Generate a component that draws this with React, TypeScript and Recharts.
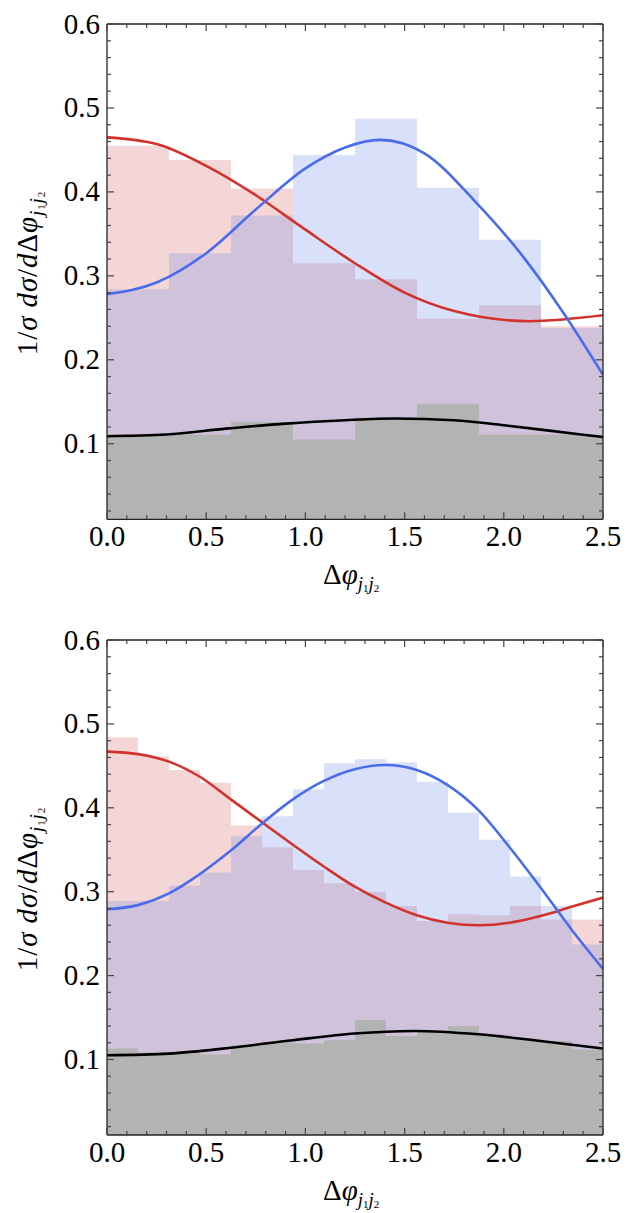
import React from 'react';
import { ComposedChart, Area, Line, XAxis, YAxis } from 'recharts';

const SERIF = "'Liberation Serif', 'DejaVu Serif', serif";

// upper panel: 8 bins of width 0.3125
const topBinWidth = 0.3125;
const topRedHist = [0.455, 0.438, 0.404, 0.315, 0.296, 0.249, 0.265, 0.240];
const topBlueHist = [0.284, 0.327, 0.372, 0.444, 0.487, 0.405, 0.343, 0.238];
const topGrayHist = [0.111, 0.111, 0.126, 0.105, 0.131, 0.147, 0.111, 0.111];

const topRedX = [0, 0.25, 0.5, 0.75, 1.0, 1.25, 1.5, 1.75, 2.13, 2.5];
const topRedCurve = [0.465, 0.457, 0.431, 0.396, 0.355, 0.315, 0.28, 0.258, 0.246, 0.253];
const topBlueX = [0, 0.25, 0.5, 0.75, 1.0, 1.2, 1.375, 1.6, 1.85, 2.1, 2.3, 2.5];
const topBlueCurve = [0.278, 0.292, 0.327, 0.379, 0.428, 0.453, 0.462, 0.446, 0.39, 0.322, 0.256, 0.182];
const topBlackX = [0, 0.3, 0.6, 0.9, 1.2, 1.45, 1.75, 2.0, 2.25, 2.5];
const topBlackCurve = [0.109, 0.111, 0.118, 0.124, 0.128, 0.13, 0.128, 0.122, 0.115, 0.108];

// lower panel: 16 bins of width 0.15625
const botBinWidth = 0.15625;
const botRedHist = [0.484, 0.461, 0.445, 0.43, 0.379, 0.353, 0.326, 0.31, 0.3, 0.283, 0.265, 0.273, 0.272, 0.283, 0.267, 0.267];
const botBlueHist = [0.289, 0.289, 0.307, 0.323, 0.366, 0.39, 0.422, 0.453, 0.458, 0.454, 0.431, 0.394, 0.362, 0.318, 0.283, 0.237];
const botGrayHist = [0.113, 0.108, 0.108, 0.106, 0.117, 0.121, 0.119, 0.123, 0.147, 0.128, 0.133, 0.14, 0.129, 0.125, 0.122, 0.112];

const botCurveX = [0, 0.156, 0.312, 0.468, 0.624, 0.78, 0.937, 1.093, 1.249, 1.405, 1.561, 1.717, 1.873, 2.029, 2.185, 2.341, 2.5];
const botRedCurve = [0.467, 0.464, 0.455, 0.437, 0.41, 0.383, 0.356, 0.33, 0.306, 0.287, 0.272, 0.263, 0.26, 0.263, 0.271, 0.282, 0.293];
const botBlueCurve = [0.279, 0.284, 0.298, 0.321, 0.349, 0.381, 0.41, 0.432, 0.446, 0.451, 0.445, 0.427, 0.397, 0.353, 0.305, 0.255, 0.208];
const botBlackX = [0, 0.312, 0.624, 0.937, 1.249, 1.55, 1.873, 2.185, 2.5];
const botBlackCurve = [0.105, 0.107, 0.114, 0.123, 0.131, 0.134, 0.13, 0.122, 0.113];

// axes
const xDomain: [number, number] = [0, 2.5];
const yDomain: [number, number] = [0.01, 0.6];
const xMajor = [0, 0.5, 1.0, 1.5, 2.0, 2.5];
const yMajor = [0.1, 0.2, 0.3, 0.4, 0.5, 0.6];
const xTicks = Array.from({ length: 26 }, (_, i) => i / 10);
const yTicks = Array.from({ length: 30 }, (_, i) => (i + 1) / 50);

const RED = '#d2322c';
const BLUE = '#4a6cec';

function histSteps(vals: number[], width: number) {
  const pts = vals.map((v, i) => ({ x: i * width, y: v }));
  pts.push({ x: vals.length * width, y: vals[vals.length - 1] });
  return pts;
}

function curve(xs: number[], ys: number[]) {
  return xs.map((x, i) => ({ x, y: ys[i] }));
}

const isMajor = (v: number, majors: number[]) => majors.some((m) => Math.abs(m - v) < 1e-6);

function FrameTick(props: any) {
  const { x, y, payload, side } = props;
  const v = payload.value;
  const horiz = side === 'bottom' || side === 'top';
  const major = isMajor(v, horiz ? xMajor : yMajor);
  const len = major ? 7 : 4;
  let line;
  if (side === 'bottom') line = <line x1={x} y1={y} x2={x} y2={y - len} />;
  else if (side === 'top') line = <line x1={x} y1={y} x2={x} y2={y + len} />;
  else if (side === 'left') line = <line x1={x} y1={y} x2={x + len} y2={y} />;
  else line = <line x1={x} y1={y} x2={x - len} y2={y} />;
  const font = { fontFamily: SERIF, fontSize: 29 };
  return (
    <g>
      <g stroke="#444" strokeWidth={1.2}>{line}</g>
      {major && side === 'bottom' && (
        <text x={x} y={y + 27} textAnchor="middle" style={font} fill="#000">
          {v.toFixed(1)}
        </text>
      )}
      {major && side === 'left' && (
        <text x={x - 7} y={y + 9.5} textAnchor="end" style={font} fill="#000">
          {v.toFixed(1)}
        </text>
      )}
    </g>
  );
}

function Subscript() {
  return (
    <>
      <tspan style={{ fontStyle: 'italic', fontSize: 19 }} dy={6}>j</tspan>
      <tspan style={{ fontSize: 11 }} dy={2}>1</tspan>
      <tspan style={{ fontStyle: 'italic', fontSize: 19 }} dy={-2}>j</tspan>
      <tspan style={{ fontSize: 11 }} dy={2}>2</tspan>
    </>
  );
}

interface PanelProps {
  height: number;
  bottomAxis: number;
  binWidth: number;
  redHist: number[];
  blueHist: number[];
  grayHist: number[];
  redX: number[];
  redCurve: number[];
  blueX: number[];
  blueCurve: number[];
  blackX: number[];
  blackCurve: number[];
}

function Panel(p: PanelProps) {
  const axisLine = { stroke: '#222', strokeWidth: 1.3 };
  const it = { fontStyle: 'italic' };
  return (
    <div style={{ position: 'relative', width: 631, height: p.height }}>
      <ComposedChart width={631} height={p.height} margin={{ top: 0, right: 0, bottom: 0, left: 0 }}>
        <Area xAxisId="b" yAxisId="l" data={histSteps(p.redHist, p.binWidth)} dataKey="y" type="stepAfter"
          stroke="none" fill="#c83232" fillOpacity={0.2} isAnimationActive={false} />
        <Area xAxisId="b" yAxisId="l" data={histSteps(p.blueHist, p.binWidth)} dataKey="y" type="stepAfter"
          stroke="none" fill="#6787eb" fillOpacity={0.25} isAnimationActive={false} />
        <Area xAxisId="b" yAxisId="l" data={histSteps(p.grayHist, p.binWidth)} dataKey="y" type="stepAfter"
          stroke="none" fill="#b3b3b3" fillOpacity={1} isAnimationActive={false} />

        <Line xAxisId="b" yAxisId="l" data={curve(p.redX, p.redCurve)} dataKey="y" type="monotone"
          stroke={RED} strokeWidth={2.6} dot={false} isAnimationActive={false} />
        <Line xAxisId="b" yAxisId="l" data={curve(p.blueX, p.blueCurve)} dataKey="y" type="monotone"
          stroke={BLUE} strokeWidth={2.6} dot={false} isAnimationActive={false} />
        <Line xAxisId="b" yAxisId="l" data={curve(p.blackX, p.blackCurve)} dataKey="y" type="monotone"
          stroke="#000" strokeWidth={2.6} dot={false} isAnimationActive={false} />

        <XAxis xAxisId="b" dataKey="x" type="number" domain={xDomain} allowDataOverflow orientation="bottom"
          height={p.bottomAxis} ticks={xTicks} interval={0} tickSize={0} tickMargin={0} tickLine={false}
          axisLine={axisLine} tick={(t: any) => <FrameTick {...t} side="bottom" />} />
        <XAxis xAxisId="t" dataKey="x" type="number" domain={xDomain} allowDataOverflow orientation="top"
          height={24} ticks={xTicks} interval={0} tickSize={0} tickMargin={0} tickLine={false}
          axisLine={axisLine} tick={(t: any) => <FrameTick {...t} side="top" />} />
        <YAxis yAxisId="l" type="number" domain={yDomain} allowDataOverflow orientation="left" width={107}
          ticks={yTicks} interval={0} tickSize={0} tickMargin={0} tickLine={false}
          axisLine={axisLine} tick={(t: any) => <FrameTick {...t} side="left" />} />
        <YAxis yAxisId="r" type="number" domain={yDomain} allowDataOverflow orientation="right" width={28}
          ticks={yTicks} interval={0} tickSize={0} tickMargin={0} tickLine={false}
          axisLine={axisLine} tick={(t: any) => <FrameTick {...t} side="right" />} />
      </ComposedChart>
      <svg width={631} height={p.height} style={{ position: 'absolute', left: 0, top: 0, pointerEvents: 'none' }}>
        <text x={37} y={273} transform="rotate(-90 37 273)" textAnchor="middle"
          style={{ fontFamily: SERIF, fontSize: 29, letterSpacing: 0.9 }} fill="#000">
          <tspan>1/</tspan>
          <tspan style={it}>σ</tspan>
          <tspan> </tspan>
          <tspan style={it}>dσ</tspan>
          <tspan>/</tspan>
          <tspan style={it}>d</tspan>
          <tspan>Δ</tspan>
          <tspan style={it}>φ</tspan>
          <Subscript />
        </text>
        <text x={323} y={584} style={{ fontFamily: SERIF, fontSize: 29 }} fill="#000">
          <tspan>Δ</tspan>
          <tspan style={it}>φ</tspan>
          <Subscript />
        </text>
      </svg>
    </div>
  );
}

export default function App() {
  return (
    <div style={{ position: 'absolute', left: 0, top: 0, width: 631, height: 1213, background: '#fff' }}>
      <Panel height={616} bottomAxis={96.7} binWidth={topBinWidth} redHist={topRedHist} blueHist={topBlueHist}
        grayHist={topGrayHist} redX={topRedX} redCurve={topRedCurve} blueX={topBlueX} blueCurve={topBlueCurve}
        blackX={topBlackX} blackCurve={topBlackCurve} />
      <Panel height={597} bottomAxis={78} binWidth={botBinWidth} redHist={botRedHist} blueHist={botBlueHist}
        grayHist={botGrayHist} redX={botCurveX} redCurve={botRedCurve} blueX={botCurveX} blueCurve={botBlueCurve}
        blackX={botBlackX} blackCurve={botBlackCurve} />
    </div>
  );
}
